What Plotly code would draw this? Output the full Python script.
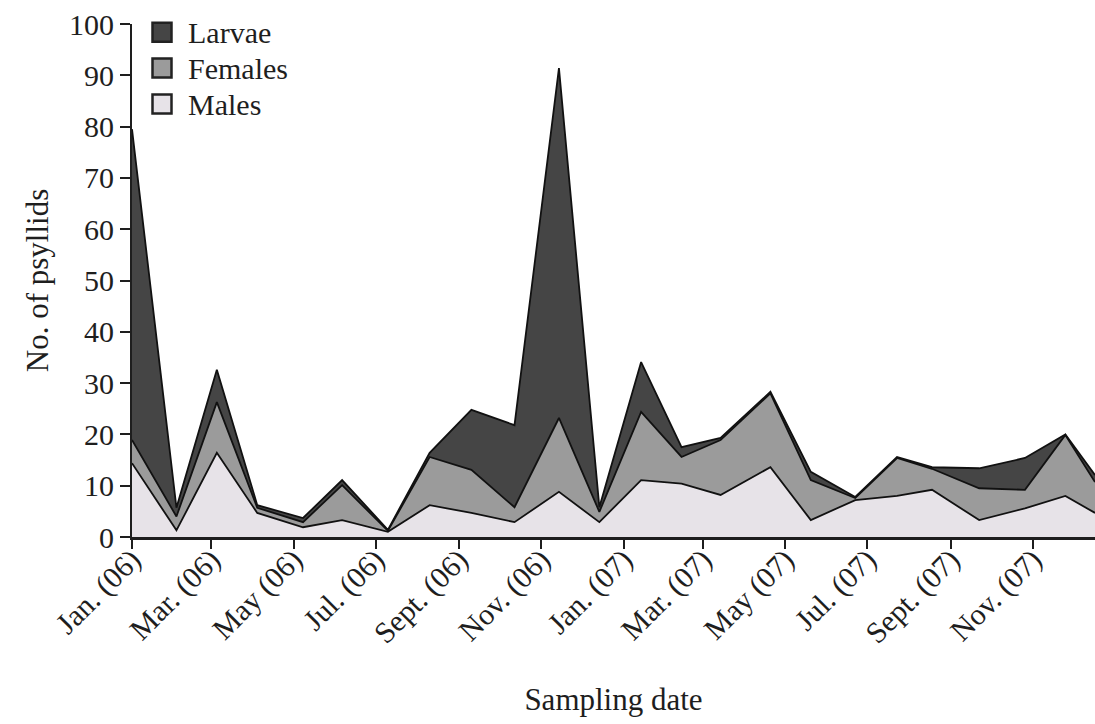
import plotly.graph_objects as go

# Sampling dates and counts per group (stacked: males, females, larvae)
dates = ["2006-01-01", "2006-02-03", "2006-03-05", "2006-04-04", "2006-05-08",
         "2006-06-06", "2006-07-10", "2006-08-10", "2006-09-10", "2006-10-12",
         "2006-11-14", "2006-12-14", "2007-01-14", "2007-02-13", "2007-03-14",
         "2007-04-20", "2007-05-20", "2007-06-22", "2007-07-23", "2007-08-18",
         "2007-09-22", "2007-10-26", "2007-11-25", "2007-12-17"]
males = [14.4, 1.3, 16.4, 4.7, 1.9, 3.3, 1.0, 6.2, 4.7, 2.9, 8.8, 2.9,
         11.1, 10.4, 8.2, 13.6, 3.3, 7.2, 8.0, 9.2, 3.3, 5.6, 8.0, 4.7]
females = [4.5, 2.7, 9.9, 1.0, 1.0, 6.8, 0.2, 9.4, 8.4, 2.9, 14.4, 2.0,
           13.3, 5.2, 10.7, 14.4, 7.8, 0.4, 7.4, 4.1, 6.2, 3.6, 11.9, 6.0]
larvae = [60.6, 1.7, 6.3, 0.5, 0.8, 1.0, 0.2, 0.8, 11.7, 16.0, 68.2, 0.9,
          9.7, 1.9, 0.4, 0.3, 1.6, 0.2, 0.2, 0.3, 3.9, 6.2, 0.1, 1.4]

tick_dates = ["2006-01-01", "2006-03-01", "2006-05-01", "2006-07-01",
              "2006-09-01", "2006-11-01", "2007-01-01", "2007-03-01",
              "2007-05-01", "2007-07-01", "2007-09-01", "2007-11-01"]
tick_labels = ["Jan. (06)", "Mar. (06)", "May (06)", "Jul. (06)",
               "Sept. (06)", "Nov. (06)", "Jan. (07)", "Mar. (07)",
               "May (07)", "Jul. (07)", "Sept. (07)", "Nov. (07)"]

series = [("Males", males, "#e7e3e8"),
          ("Females", females, "#9b9b9b"),
          ("Larvae", larvae, "#454545")]

FONT = "Liberation Serif, Times New Roman, serif"
INK = "#1e1e1e"

fig = go.Figure()
for name, vals, color in series:
    fig.add_trace(go.Scatter(
        x=dates, y=vals, name=name, mode="lines", stackgroup="one",
        line=dict(color="#111111", width=1.8), fillcolor=color,
        showlegend=False, hoverinfo="x+y+name"))

# Key in the upper-left corner: swatch + label per group, larvae on top
PLOT_W, PLOT_H = 963, 513
key_rows = [0.984, 0.914, 0.844]
sw = 19
for (name, vals, color), ky in zip(reversed(series), key_rows):
    cx = 30 / PLOT_W
    fig.add_shape(type="rect", xref="paper", yref="paper",
                  x0=cx - sw / 2 / PLOT_W, x1=cx + sw / 2 / PLOT_W,
                  y0=ky - sw / 2 / PLOT_H, y1=ky + sw / 2 / PLOT_H,
                  fillcolor=color, line=dict(color="#222222", width=2.5))
    fig.add_annotation(xref="paper", yref="paper", x=54 / PLOT_W, y=ky,
                       xanchor="left", yanchor="middle", text=name,
                       showarrow=False, font=dict(size=30, color=INK))

fig.update_layout(
    width=1095, height=724,
    margin=dict(l=132, r=0, t=24, b=187),
    paper_bgcolor="white", plot_bgcolor="white",
    font=dict(family=FONT, size=30, color=INK),
    showlegend=False,
    xaxis=dict(
        type="date", range=["2006-01-01", "2007-12-17"],
        tickvals=tick_dates, ticktext=tick_labels, tickangle=-45,
        ticks="outside", ticklen=9, tickwidth=2, tickcolor=INK,
        showline=True, linewidth=3, linecolor=INK,
        showgrid=False, zeroline=False,
        tickfont=dict(size=30), ticklabelstandoff=-19,
        title=dict(text="Sampling date", font=dict(size=31), standoff=40)),
    yaxis=dict(
        range=[0, 100], dtick=10, tick0=0,
        ticks="outside", ticklen=10, tickwidth=2, tickcolor=INK,
        showline=True, linewidth=2, linecolor=INK,
        showgrid=False, zeroline=False,
        tickfont=dict(size=30),
        title=dict(text="No. of psyllids", font=dict(size=31), standoff=11)),
)

fig.write_html("out.html")
